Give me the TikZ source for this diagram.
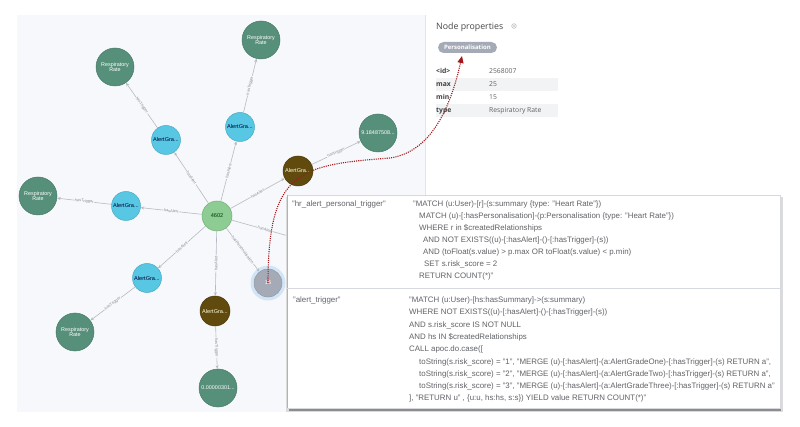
\documentclass[tikz,border=0pt]{standalone}
\usepackage{fontspec}
\setmainfont{Liberation Sans}
\newfontfamily\uifont{Open Sans}
\usetikzlibrary{arrows.meta}

\definecolor{panelbg}{HTML}{F6F8FB}
\definecolor{panelline}{HTML}{E1E5EB}
\definecolor{respgreen}{HTML}{57907A}
\definecolor{alertcyan}{HTML}{57C7E3}
\definecolor{alertbrown}{HTML}{604A0E}
\definecolor{usergreen}{HTML}{8DCC93}
\definecolor{persgray}{HTML}{A5ABB6}
\definecolor{halo}{HTML}{D2E5F6}
\definecolor{edgegray}{HTML}{B6BAC2}
\definecolor{labelgray}{HTML}{8A8E96}
\definecolor{codegray}{HTML}{606368}
\definecolor{boxline}{HTML}{D6DAE0}
\definecolor{rowgray}{HTML}{F2F3F4}
\definecolor{linkred}{HTML}{A3191B}

\newcommand{\codefont}{\fontsize{7.9}{8.5}\selectfont}

\begin{document}
\begin{tikzpicture}[x=1pt,y=-1pt,
  gnode/.style={circle,inner sep=0pt,line width=0.5pt,align=center},
  respnode/.style={gnode,minimum size=38pt,fill=respgreen,draw=respgreen!85!black,
    text=white,font=\fontsize{5.4}{5.7}\selectfont},
  valnode/.style={respnode},
  cyannode/.style={gnode,minimum size=29pt,fill=alertcyan,draw=alertcyan!85!black,
    text=black!80!blue,font=\fontsize{5.6}{6}\selectfont},
  brownnode/.style={gnode,minimum size=30pt,fill=alertbrown,draw=alertbrown!80!black,
    text=white!88!yellow,font=\fontsize{5.6}{6}\selectfont},
  usernode/.style={gnode,minimum size=30pt,fill=usergreen,draw=usergreen!85!black,
    text=black!75!green,font=\fontsize{5.6}{6}\selectfont},
  persnode/.style={gnode,minimum size=28pt,fill=persgray,draw=persgray!90!black,
    text=white,font=\fontsize{5.6}{6}\selectfont},
  rel/.style={draw=edgegray,line width=0.6pt,-{Stealth[length=3.5pt,width=3pt]}},
  relplain/.style={draw=edgegray,line width=0.6pt},
  rellabel/.style={sloped,midway,fill=panelbg,inner sep=0.6pt,
    font=\fontsize{4}{4}\selectfont,text=labelgray},
  codetxt/.style={anchor=base west,inner sep=0pt,font=\codefont,text=codegray},
  propkey/.style={anchor=base west,inner sep=0pt,font=\uifont\bfseries\fontsize{6.8}{7}\selectfont,text=black!75},
  propval/.style={anchor=base west,inner sep=0pt,font=\uifont\fontsize{6.8}{7}\selectfont,text=black!62},
  link/.style={draw=linkred,line width=1.1pt,dash pattern=on 1.1pt off 1.1pt,
    -{Triangle[length=7pt,width=6pt,fill=linkred]}}
]
\useasboundingbox (0,0) rectangle (800,427);
\fill[white] (0,0) rectangle (800,427);

% graph canvas and the side panel border
\fill[panelbg] (17,15) rectangle (425,412);
\draw[panelline,line width=0.6pt] (425,15) -- (425,195);

% graph nodes
\node[usernode] (user) at (217,216) {4602};
\node[cyannode] (a1) at (166,140) {AlertGra...};
\node[cyannode] (a2) at (240,127) {AlertGra...};
\node[brownnode] (b1) at (298,171) {AlertGra...};
\node[cyannode] (a3) at (126,206) {AlertGra...};
\node[cyannode] (a4) at (147,278) {AlertGra...};
\node[brownnode] (b2) at (215,311) {AlertGra...};
\node[respnode] (r1) at (115,67) {Respiratory\\Rate};
\node[respnode] (r2) at (261,40) {Respiratory\\Rate};
\node[respnode] (r3) at (38,196) {Respiratory\\Rate};
\node[respnode] (r4) at (75,332) {Respiratory\\Rate};
\node[valnode] (v1) at (378,133) {9.18487508...};
\node[valnode] (v2) at (218,388) {0.00000301...};
\fill[halo] (268,283) circle (17.5);
\node[persnode] (pers) at (268,283) {15};
\coordinate (hidden) at (292,237);

% relationships
\draw[rel] (user) -- node[rellabel]{hasAlert} (a1);
\draw[rel] (user) -- node[rellabel]{hasAlert} (a2);
\draw[rel] (user) -- node[rellabel]{hasAlert} (b1);
\draw[rel] (user) -- node[rellabel]{hasAlert} (a3);
\draw[rel] (user) -- node[rellabel]{hasAlert} (a4);
\draw[rel] (user) -- node[rellabel]{hasAlert} (b2);
\draw[rel] (user) -- node[rellabel]{hasPersonalisation} (pers);
\draw[relplain] (user) -- node[rellabel,pos=0.55]{hasAlert} (hidden);
\draw[rel] (a1) -- node[rellabel]{hasTrigger} (r1);
\draw[rel] (a2) -- node[rellabel]{hasTrigger} (r2);
\draw[rel] (b1) -- node[rellabel]{hasTrigger} (v1);
\draw[rel] (a3) -- node[rellabel]{hasTrigger} (r3);
\draw[rel] (a4) -- node[rellabel]{hasTrigger} (r4);
\draw[rel] (b2) -- node[rellabel]{hasTrigger} (v2);

% node properties panel
\node[anchor=base west,inner sep=0pt,font=\uifont\fontsize{8.8}{9}\selectfont,text=black!72]
  (ptitle) at (436,29.5) {Node properties};
\draw[black!30,line width=0.5pt] (514,26) circle (2.3);
\fill[black!30] (514,26) circle (0.9);
\node[fill=persgray,rounded corners=5.5pt,minimum width=59pt,minimum height=11pt,inner sep=0pt,
  text=white,font=\uifont\bfseries\fontsize{6}{6}\selectfont] (pill) at (467.5,47.5) {Personalisation};
\fill[rowgray] (436,78) rectangle (558,91);
\fill[rowgray] (436,104) rectangle (558,117);
\node[propkey] (k1) at (436,73.5) {<id>};
\node[propval] (w1) at (489,73.5) {2568007};
\node[propkey] (k2) at (436,86.5) {max};
\node[propval] (w2) at (489,86.5) {25};
\node[propkey] (k3) at (436,99.5) {min};
\node[propval] (w3) at (489,99.5) {15};
\node[propkey] (k4) at (436,112.5) {type};
\node[propval] (w4) at (489,112.5) {Respiratory Rate};

% trigger table
\fill[black!14] (286,197) rectangle (783,412);
\fill[black!45] (289,404) rectangle (781,411);
\fill[white] (287,195) rectangle (780,408);
\draw[boxline,line width=0.5pt] (287,195) rectangle (780,408);
\draw[black!30,line width=1pt] (287.5,195) -- (287.5,408);
\draw[boxline,line width=0.6pt] (287,288) -- (780,288);

\node[codetxt] (n1) at (292,207) {"hr\_alert\_personal\_trigger"};
\node[codetxt] (q1) at (413,207) {"MATCH (u:User)-[r]-(s:summary \{type: "Heart Rate"\})};
\node[codetxt] (q2) at (419,219) {MATCH (u)-[:hasPersonalisation]-(p:Personalisation \{type: "Heart Rate"\})};
\node[codetxt] (q3) at (419,231) {WHERE r in \$createdRelationships};
\node[codetxt] (q4) at (423,243) {AND NOT EXISTS((u)-[:hasAlert]-()-[:hasTrigger]-(s))};
\node[codetxt] (q5) at (423,255) {AND (toFloat(s.value) > p.max OR toFloat(s.value) < p.min)};
\node[codetxt] (q6) at (424,267) {SET s.risk\_score = 2};
\node[codetxt] (q7) at (419,279) {RETURN COUNT(*)"};

\node[codetxt] (n2) at (293,303) {"alert\_trigger"};
\node[codetxt] (t1) at (409,303) {"MATCH (u:User)-[hs:hasSummary]->(s:summary)};
\node[codetxt] (t2) at (409,315) {WHERE NOT EXISTS((u)-[:hasAlert]-()-[:hasTrigger]-(s))};
\node[codetxt] (t3) at (409,327.5) {AND s.risk\_score IS NOT NULL};
\node[codetxt] (t4) at (409,339.5) {AND hs IN \$createdRelationships};
\node[codetxt] (t5) at (409,351.5) {CALL apoc.do.case([};
\node[codetxt] (t6) at (419,364) {toString(s.risk\_score) = "1", "MERGE (u)-[:hasAlert]-(a:AlertGradeOne)-[:hasTrigger]-(s) RETURN a",};
\node[codetxt] (t7) at (419,376) {toString(s.risk\_score) = "2", "MERGE (u)-[:hasAlert]-(a:AlertGradeTwo)-[:hasTrigger]-(s) RETURN a",};
\node[codetxt] (t8) at (419,388) {toString(s.risk\_score) = "3", "MERGE (u)-[:hasAlert]-(a:AlertGradeThree)-[:hasTrigger]-(s) RETURN a"};
\node[codetxt] (t9) at (409,400) {], "RETURN u" , \{u:u, hs:hs, s:s\}) YIELD value RETURN COUNT(*)"};

% link from the selected node to its label
\coordinate (tip) at (462,56);
\draw[link] (pers.center) .. controls (268,170) and (300,165) .. (390,158)
  .. controls (430,152) and (450,110) .. (tip);
\end{tikzpicture}
\end{document}
